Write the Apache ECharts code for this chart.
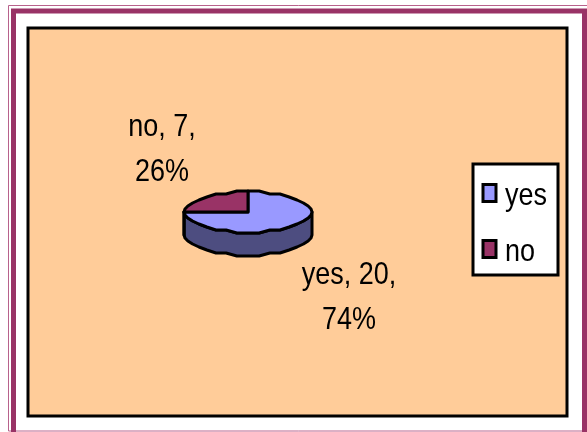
<!DOCTYPE html>
<html><head><meta charset="utf-8">
<style>html,body{margin:0;padding:0;background:#fff}#c{width:587px;height:432px}</style>
<script src="https://cdn.jsdelivr.net/npm/echarts@6/dist/echarts.min.js"></script>
</head><body><div id="c"></div>
<script>
const categories = ['yes', 'no'];
const values = [20, 7];
const sliceColors = ['#9999ff', '#993366'];
const sideColor = '#4d4d80';
const total = values.reduce((a, b) => a + b, 0);

const cx = 248, cy = 212, rx = 64, ry = 20.5, depth = 23;
const facet = Math.PI / 18;
const FONT = '27px "Liberation Sans"', SY = 1.17;
function rimPoint(a, dy) {
  return [cx + rx * Math.sin(a), cy + Math.round(-ry * Math.cos(a) / 3) * 3 + (dy || 0)];
}
function arcPoints(a0, a1, dy) {
  const pts = [rimPoint(a0, dy)];
  let k = Math.floor(a0 / facet) + 1;
  while (k * facet < a1 - 1e-6) { pts.push(rimPoint(k * facet, dy)); k++; }
  pts.push(rimPoint(a1, dy));
  return pts;
}
const stroke = { stroke: '#000', lineWidth: 3, lineJoin: 'round' };
const stretched = (text, x, y, align, lineHeight) => ({
  type: 'text', x, y, scaleX: 1, scaleY: SY,
  style: { text, x: 0, y: 0, align, verticalAlign: 'middle', font: FONT, fill: '#000', lineHeight }
});

function sliceSeries(idx, labelPos) {
  const before = values.slice(0, idx).reduce((a, b) => a + b, 0);
  const a0 = before / total * 2 * Math.PI, a1 = (before + values[idx]) / total * 2 * Math.PI;
  const pct = Math.round(values[idx] / total * 100);
  return {
    type: 'custom', name: categories[idx], coordinateSystem: 'none',
    data: [values[idx]], silent: true,
    z: idx === 0 ? 3 : 4,
    renderItem() {
      const children = [];
      const sa0 = Math.max(a0, Math.PI / 2), sa1 = Math.min(a1, Math.PI * 1.5);
      if (sa1 > sa0) {
        const top = arcPoints(sa0, sa1, 0);
        const bot = arcPoints(sa0, sa1, depth).reverse();
        children.push({ type: 'polygon', shape: { points: top.concat(bot) }, style: { fill: sideColor, ...stroke } });
      }
      const pts = [[cx, cy]].concat(arcPoints(a0, a1, 0));
      children.push({ type: 'polygon', shape: { points: pts }, style: { fill: sliceColors[idx], ...stroke } });
      children.push(stretched(categories[idx] + ', ' + values[idx] + ',\n' + pct + '%', labelPos[0], labelPos[1], 'center', 38));
      return { type: 'group', children };
    }
  };
}

const chart = echarts.init(document.getElementById('c'));
const rect = (x, y, w, h, s) => ({ type: 'rect', silent: true, shape: { x, y, width: w, height: h }, style: s });
const legendRows = [193, 249];
chart.setOption({
  animation: false,
  backgroundColor: '#fff',
  graphic: [
    rect(8.5, 5.5, 590, 425.5, { fill: 'none', stroke: '#b8628c', lineWidth: 1 }),
    rect(13.5, 11, 571, 500, { fill: 'none', stroke: '#993366', lineWidth: 5 }),
    rect(28, 28, 539, 388, { fill: '#ffcc99', stroke: '#000', lineWidth: 3 }),
    { ...rect(473, 164, 85, 111, { fill: '#fff', stroke: '#000', lineWidth: 3 }), z: 5 },
    ...categories.map((n, i) => ({ ...rect(483, legendRows[i] - 8.5, 13, 17, { fill: sliceColors[i], stroke: '#000', lineWidth: 3 }), z: 6 })),
    ...categories.map((n, i) => ({ ...stretched(n, 505, legendRows[i] + 3, 'left', 30), z: 6, silent: true }))
  ],
  series: [sliceSeries(0, [349, 298]), sliceSeries(1, [162, 150])]
});
</script></body></html>
